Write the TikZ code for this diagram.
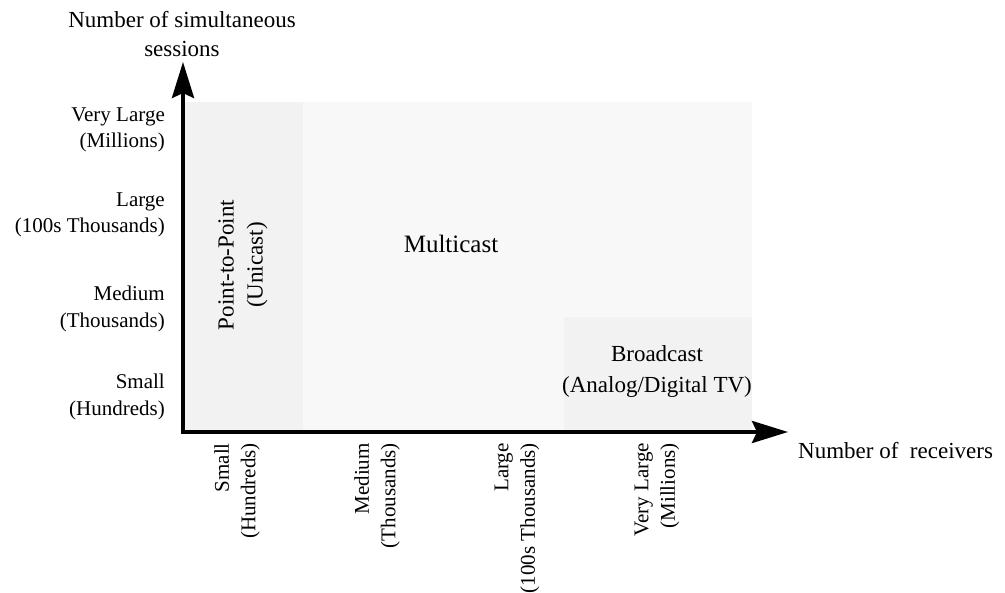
\documentclass[tikz,border=0pt]{standalone}
\usepackage{fontspec}
\setmainfont{Liberation Serif}
\usepackage{xcolor}
\usetikzlibrary{arrows.meta}
\definecolor{unigray}{RGB}{242,242,242}
\definecolor{multigray}{RGB}{248,248,248}
\definecolor{axisblack}{RGB}{0,0,0}

\begin{document}
\begin{tikzpicture}[x=1pt, y=-1pt,
  axis/.style={draw=axisblack, line width=4pt,
    {Stealth[length=36pt, width=22pt, inset=5pt]}-{Stealth[length=36pt, width=22pt, inset=5pt]}},
  ticklab/.style={inner sep=0pt, align=right, font=\fontsize{21}{26.5}\selectfont},
  arealab/.style={inner sep=0pt, align=center, font=\fontsize{23}{31}\selectfont}]
\useasboundingbox (0,0) rectangle (1005,593);

%% regions
\fill[multigray] (183,102) rectangle (752,432);
\fill[unigray]   (183,102) rectangle (303,432);
\fill[unigray]   (564,317) rectangle (752,432);

%% axes
\coordinate (O) at (183,432);
\coordinate (ytip) at (183,62);
\coordinate (xtip) at (788,432);
\draw[axis] (ytip) -- (O) -- (xtip);

%% axis titles
\node[arealab, align=center, font=\fontsize{23}{29}\selectfont] (ytitle) at (182,34)
  {Number of simultaneous\\sessions};
\node[arealab, anchor=west] (xtitle) at (798,451) {Number of\ \ receivers};

%% sessions
\node[ticklab, anchor=east] (vls) at (165,130) {Very Large\\(Millions)};
\node[ticklab, anchor=east] (ls)  at (165,215) {Large\\(100s Thousands)};
\node[ticklab, anchor=east] (ms)  at (165,309) {Medium\\(Thousands)};
\node[ticklab, anchor=east] (ss)  at (165,397) {Small\\(Hundreds)};

%% receivers
\node[ticklab, rotate=90, anchor=east] (sr)  at (237,443) {Small\\(Hundreds)};
\node[ticklab, rotate=90, anchor=east] (mr)  at (377,443) {Medium\\(Thousands)};
\node[ticklab, rotate=90, anchor=east] (lr)  at (517,443) {Large\\(100s Thousands)};
\node[ticklab, rotate=90, anchor=east] (vlr) at (657,443) {Very Large\\(Millions)};

%% areas
\node[arealab, rotate=90, font=\fontsize{23}{29}\selectfont] (unicast) at (243,265) {Point-to-Point\\(Unicast)};
\node[arealab, font=\fontsize{25}{30}\selectfont] (multicast) at (451,244) {Multicast};
\node[arealab] (broadcast) at (657,372) {Broadcast\\(Analog/Digital TV)};
\end{tikzpicture}
\end{document}
